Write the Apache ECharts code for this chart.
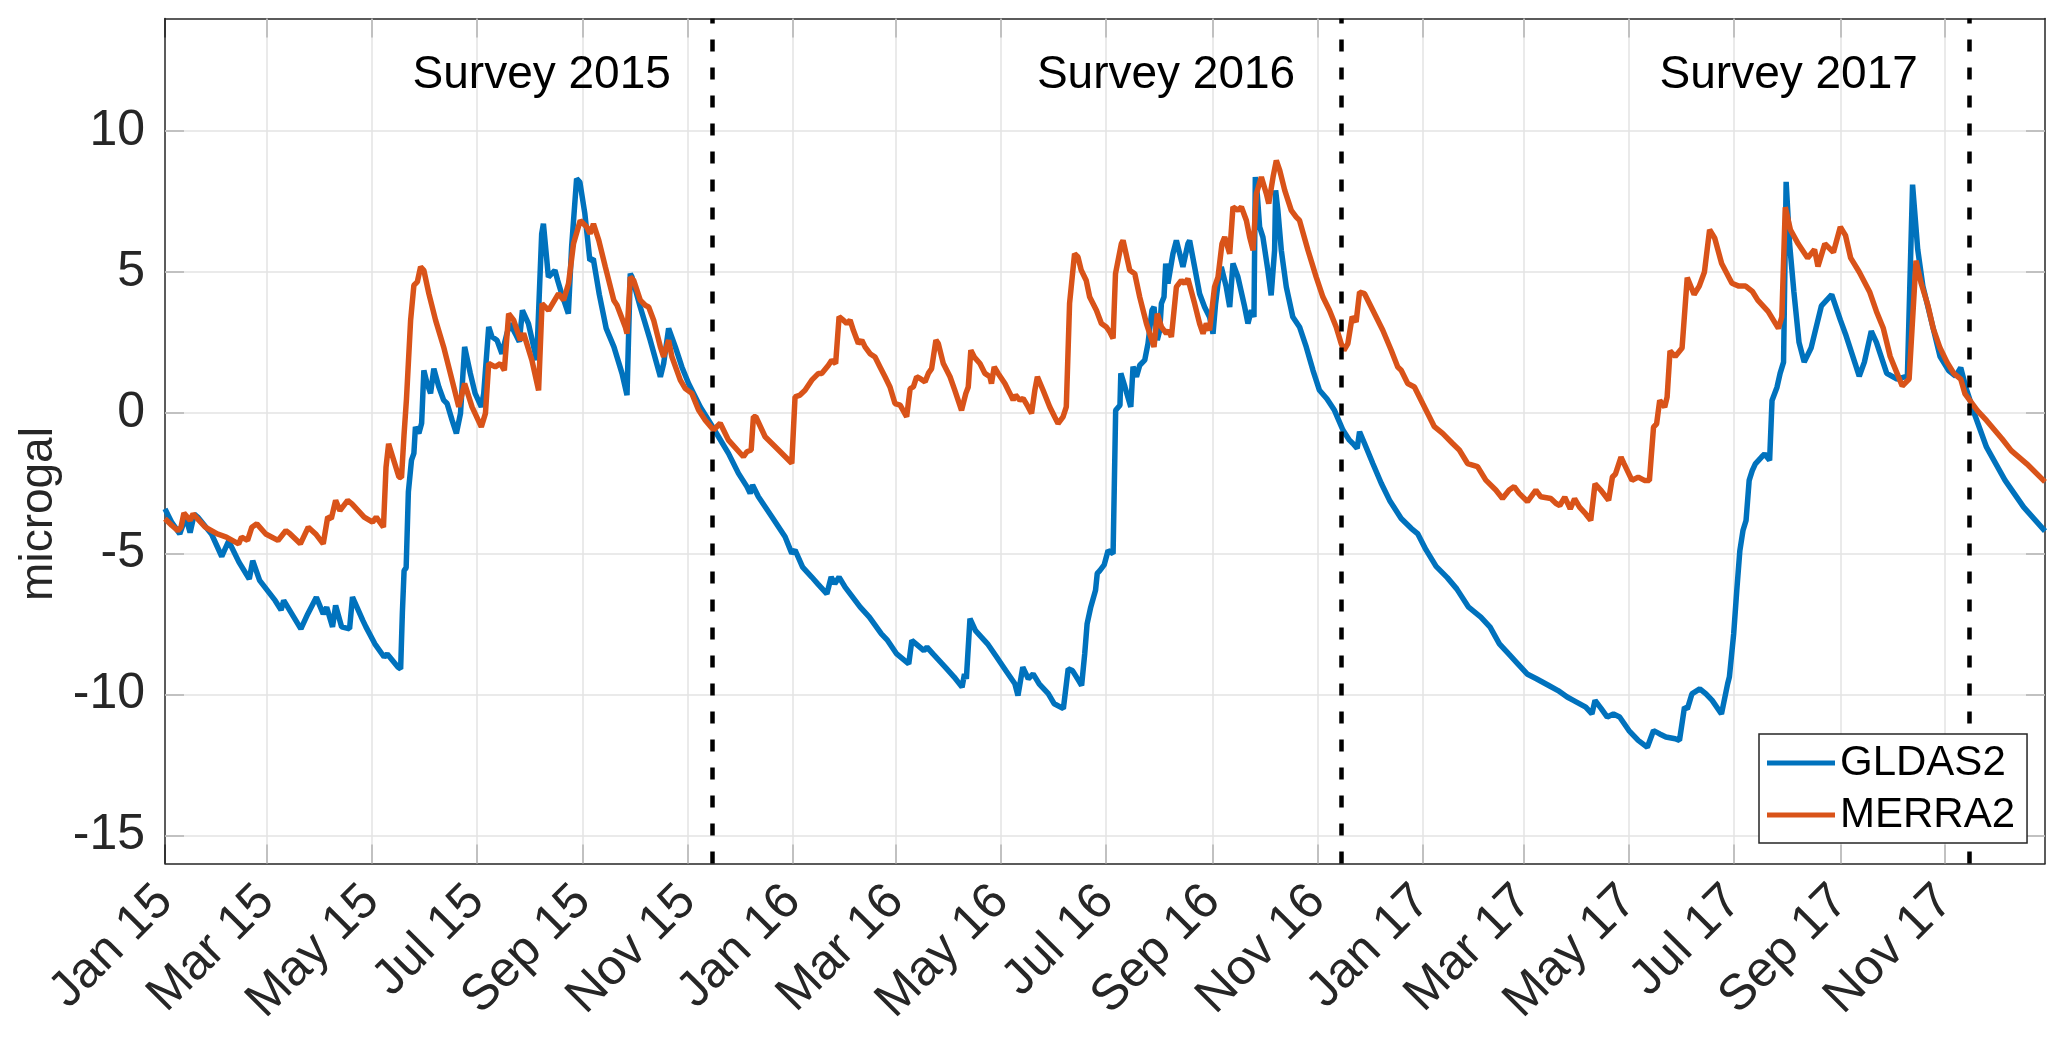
<!DOCTYPE html>
<html><head><meta charset="utf-8">
<script src="https://cdn.jsdelivr.net/npm/echarts@6/dist/echarts.min.js"></script>
<style>html,body{margin:0;padding:0;background:#fff}#chart{width:2067px;height:1056px}</style>
</head><body><div id="chart"></div>
<script>
// x values are days since 2015-01-01
const axisEndDay = 1093;
const tickDays = [0,59,120,181,243,304,365,425,486,547,609,670,731,790,851,912,974,1035];
const tickLabels = ['Jan 15','Mar 15','May 15','Jul 15','Sep 15','Nov 15','Jan 16','Mar 16','May 16','Jul 16','Sep 16','Nov 16','Jan 17','Mar 17','May 17','Jul 17','Sep 17','Nov 17'];
const yTicks = [-15,-10,-5,0,5,10];
const surveyDays = [318, 684, 1049];
const surveyLabels = ['Survey 2015','Survey 2016','Survey 2017'];
const surveyLabelDays = [219, 582, 944];
const surveyLabelY = 12;

const gldasDay = [0,4,8.6,12,14.6,17,19,27,33,37,43,49,51,55,64,67.5,69,79,83,88,92,94,97.4,99.2,102.7,107.3,109,115,116.8,122,127.4,129.2,135.5,137,138,139,140.2,141.5,143.3,144.7,145.6,147.6,149.2,150.5,152.4,154.4,156.3,159.2,162,164,166.9,169.4,171.8,174.2,177.5,180.3,183.9,185.3,188.2,190.1,193,195.9,198.8,200.7,203.6,206,207.8,211.3,216.1,219,220,222.9,226.7,228.3,230.6,234.5,236.4,239.3,241.2,244.1,247,249,252.5,256.5,261,265.7,268.6,270.5,271.5,276.3,282.1,288,289.9,292.8,296.7,300.5,304.4,307.3,311.2,316,321.8,327.6,333.4,338.3,340.2,341.6,345,352.8,360.5,364.4,366.3,370.7,376,379.5,384.8,387.3,389.4,391.9,395.4,404.2,409.5,416.5,420.1,425.4,432.4,434.2,436.6,441.2,443,446.5,453.6,458.8,463.4,464.8,465.9,468,471.2,478.2,483.5,488.8,494.1,495.9,498.7,501.9,504.7,508.2,513.5,517,522.3,523.4,525.1,527.6,531.1,532.9,534.7,536.1,538.2,541,542,543.5,546,548.3,551.2,552.7,555.2,555.7,558.1,561.5,562.8,564.8,566.7,569.6,571.5,572.5,573.8,575,576.9,578.3,579.3,580.8,581.8,583.1,586,588,591.8,594.7,595.7,598.6,601.5,604.4,607.3,609.3,610.8,612.2,614.1,617,619,620.9,623.8,627.7,629.6,631.6,633.1,633.9,635,636.4,638.3,641.2,643.1,645.1,645.7,647,649,651.9,655.7,659.6,663.5,667.4,671.2,675.5,679.9,684.8,688.6,690.6,693.1,694.5,697.4,702.2,707.1,711.9,718.7,724.5,728.4,733,739,745.5,751,757.9,765,770.4,775.8,781.2,786.5,791.9,797.3,804.5,809.9,815.2,818.8,826,829.6,831.4,835,838.5,842.1,845.7,851.1,856.5,861.8,865.4,869,872.6,878,880.5,883.4,885.1,887.7,892.3,895.9,899.5,904.9,908.5,909.5,912,913.8,915.6,917.4,919.2,921,922.8,924.6,928.2,930,932.9,934.3,937.2,939,941,942.5,944.5,947,950,953,957,963,969,974,977,985,988,992,995,1001,1007,1013,1016,1019,1022,1028,1032,1037,1041,1044,1047,1052,1059,1069.8,1080.6,1093];
const gldasVal = [-3.41,-3.9,-4.3,-3.7,-4.25,-3.6,-3.7,-4.3,-5.1,-4.55,-5.3,-5.9,-5.25,-5.95,-6.66,-7.0,-6.66,-7.67,-7.14,-6.55,-7.14,-6.9,-7.6,-6.84,-7.6,-7.67,-6.54,-7.37,-7.6,-8.2,-8.67,-8.56,-9.03,-9.09,-7.1,-5.6,-5.5,-2.8,-1.68,-1.44,-0.5,-0.73,-0.37,1.51,1.04,0.69,1.57,0.92,0.45,0.33,-0.26,-0.73,-0.02,2.34,1.4,0.69,0.21,0.69,3.05,2.7,2.58,2.1,2.82,3.17,2.82,2.52,3.64,3.17,1.87,6.36,6.71,4.82,5.06,4.7,4.23,3.52,5.89,8.31,8.19,7.07,5.41,5.47,4.2,3.0,2.34,1.4,0.63,4.94,4.82,3.76,2.58,1.28,1.75,3.0,2.34,1.63,1.04,0.69,0.21,-0.26,-0.85,-1.44,-2.15,-2.62,-2.86,-2.56,-2.98,-3.69,-4.4,-4.99,-4.87,-5.48,-5.83,-6.07,-6.43,-5.83,-6.07,-5.83,-6.19,-6.9,-7.25,-7.85,-8.08,-8.56,-8.91,-8.08,-8.2,-8.44,-8.32,-8.56,-9.03,-9.38,-9.74,-9.27,-9.44,-7.31,-7.73,-8.2,-8.67,-9.15,-9.62,-10.04,-9.03,-9.44,-9.27,-9.62,-9.97,-10.33,-10.5,-10.45,-9.09,-9.15,-9.5,-9.68,-8.56,-7.49,-6.9,-6.3,-5.7,-5.6,-5.4,-4.89,-5.0,0.09,0.27,1.4,0.92,0.21,1.64,1.28,1.69,1.87,2.46,2.46,3.64,3.76,2.58,2.93,3.88,4.11,5.3,4.59,5.65,6.12,5.18,6.0,6.12,5.18,4.23,3.76,3.4,2.81,3.88,4.59,5.18,4.47,3.76,5.3,4.82,3.76,3.17,3.64,3.4,8.37,7.78,6.6,6.24,5.06,4.17,5.77,7.9,7.19,5.77,4.47,3.4,3.05,2.34,1.51,0.8,0.5,0.09,-0.61,-0.97,-1.09,-1.26,-0.67,-1.09,-1.8,-2.5,-3.1,-3.75,-4.1,-4.3,-4.85,-5.45,-5.85,-6.25,-6.9,-7.25,-7.61,-8.2,-8.56,-8.91,-9.27,-9.44,-9.68,-9.86,-10.09,-10.21,-10.45,-10.69,-10.21,-10.5,-10.8,-10.69,-10.8,-11.28,-11.63,-11.87,-11.28,-11.4,-11.51,-11.57,-11.63,-10.45,-10.51,-9.98,-9.8,-9.98,-10.21,-10.69,-9.62,-9.38,-7.85,-6.31,-4.89,-4.18,-3.82,-2.4,-2.05,-1.81,-1.57,-1.46,-1.69,0.44,0.91,1.4,1.8,8.2,6.0,4.3,2.5,1.8,2.3,3.8,4.2,3.3,2.8,1.3,1.8,2.9,2.5,1.4,1.2,1.3,8.1,5.8,4.5,3.0,2.0,1.5,1.3,1.6,0.9,-0.04,-1.22,-2.4,-3.35,-4.2];

const merraDay = [0,4,7.5,9.3,11,14.6,16.3,23.4,30.4,35.7,42.8,44.5,48,50.5,53.4,58.6,65.7,70.3,72.8,78.7,83.3,87.6,92,94.6,96.7,99.2,101.7,106.2,108.7,115.8,120.7,122.8,127,128.5,130,132.7,136,137.5,139,140.4,142.8,144.7,146.7,148.6,150.5,153.4,157.3,162,165.9,170.8,174.2,178.5,183.9,186.3,188.2,192,195,197.3,199.8,202.7,206.6,208.5,213.3,217.2,219.2,223,228.8,231.7,234.6,237.5,241.4,245.2,247.2,249.1,252.2,256,260.9,262.8,267.6,268.6,270.5,272.5,276.3,279.2,281.2,284.1,288,289.9,292.8,294.7,299.6,302.5,306.3,310.2,314.1,318.9,322.8,327.6,336.3,338.3,340.8,342.1,343.5,348.9,356.7,364.4,366.3,369.2,372.1,376,379.9,381.8,385.7,387.6,389.9,391.9,394.4,396.4,398.3,400.2,403.1,405.1,407,409.9,412.8,415.7,418.6,421.5,424.4,427.4,431.2,433.2,435.1,437,439,441.9,443.8,445.7,448.2,449.6,452.5,456.4,459.2,463.1,464.1,465.6,467,468.5,470.5,473.8,476.7,479.6,480.5,482.1,484.4,488.3,491.2,493.1,494.5,497,498.9,501.8,503.8,505.7,507.2,510.5,514.4,517.2,519.2,522.1,524,525.9,528.8,530.8,532.7,535.6,537.6,541.5,544.4,547.3,549.3,551.2,552.6,556,557,560.9,563.8,566.7,570.6,575,576.9,579.3,582.2,583.5,585.1,588,590.9,592.8,594.7,598.6,601.5,603.5,605.4,607.3,610.2,612.2,614.5,616.1,619,620.9,623.8,625.8,628.7,630.6,632.6,634.5,637.4,640.3,641.7,644.2,646.1,648.1,651,654.8,657.7,659.6,664.5,669.3,673.2,677,680.9,683.8,685.4,687.7,690.2,692.5,694.5,697.4,702.2,708,712.9,716.7,718.7,722.5,726.4,731.2,738,742.8,748.6,752.5,757.3,763.1,767.9,773.7,777.6,781.5,784.4,787.3,792.1,797,799.9,805.7,808.6,810.9,813.8,817,819.5,822.4,826,828.9,831.4,835,839.3,841.5,843.3,846.5,848.3,852.9,856.5,860.1,863,865.4,867.2,869,871.9,873.3,875,878,882,885,889,892,895,898,901,905,911,915,919,923,926,932,938,940,942,945,949.5,955,959,961,965,970,974,977,980,985,991,995,999,1003,1007,1010,1014,1018,1021,1025,1028,1032,1036,1040,1044,1046.5,1053.7,1059,1068,1073.4,1082.4,1093];
const merraVal = [-3.76,-4.0,-4.18,-4.06,-3.56,-3.82,-3.59,-4.06,-4.3,-4.41,-4.65,-4.41,-4.53,-4.06,-3.94,-4.3,-4.53,-4.18,-4.3,-4.65,-4.06,-4.3,-4.65,-3.7,-3.76,-3.11,-3.47,-3.11,-3.23,-3.7,-3.88,-3.7,-4.06,-1.93,-1.1,-1.63,-2.28,-2.3,-0.75,0.5,3.29,4.53,4.65,5.18,5.06,4.23,3.29,2.34,1.4,0.21,1.04,0.21,-0.5,-0.02,1.75,1.63,1.75,1.51,3.52,3.29,2.58,2.82,1.87,0.8,3.88,3.64,4.23,4.0,4.59,6.0,6.83,6.6,6.36,6.71,6.12,5.18,4.0,3.82,3.05,2.81,4.82,4.7,4.0,3.82,3.76,3.29,2.34,1.99,2.58,1.99,1.16,0.86,0.69,0.1,-0.26,-0.61,-0.37,-0.97,-1.56,-1.38,-1.32,-0.14,-0.14,-0.85,-1.32,-1.79,0.57,0.63,0.8,1.16,1.4,1.4,1.69,1.87,1.75,3.41,3.29,3.17,3.29,2.93,2.46,2.58,2.34,2.1,1.98,1.63,1.28,0.92,0.33,0.27,-0.14,0.86,0.92,1.28,1.22,1.1,1.4,1.57,2.58,2.46,1.75,1.28,0.8,0.09,0.09,0.69,0.92,2.22,1.98,1.75,1.4,1.28,1.04,1.63,1.4,1.04,0.69,0.45,0.63,0.45,0.51,0.21,-0.02,0.8,1.28,0.8,0.21,-0.14,-0.38,-0.14,0.21,3.88,5.65,5.53,5.06,4.7,4.11,3.64,3.17,3.05,2.87,2.64,4.94,6.0,6.12,5.06,4.94,4.11,3.17,2.34,3.52,3.05,2.81,2.93,2.69,4.47,4.7,4.59,4.76,3.88,3.17,2.81,3.17,2.93,4.47,4.82,6.0,6.24,5.65,7.31,7.19,7.31,6.83,6.24,5.77,7.78,8.37,7.78,7.43,8.37,8.96,8.61,7.9,7.19,6.95,6.83,5.77,4.82,4.11,3.64,3.05,2.46,2.22,2.46,3.41,3.23,4.29,4.23,3.64,2.93,2.22,1.63,1.51,1.04,0.92,0.33,-0.49,-0.73,-1.09,-1.32,-1.8,-1.91,-2.39,-2.74,-3.04,-2.74,-2.62,-2.86,-3.15,-2.74,-2.98,-3.04,-3.21,-3.29,-2.99,-3.41,-3.05,-3.35,-3.59,-3.82,-2.52,-2.76,-3.11,-2.28,-2.17,-1.57,-1.81,-2.4,-2.28,-2.4,-2.4,-0.51,-0.39,0.44,0.2,0.56,2.2,2.0,2.3,4.8,4.2,4.5,5.0,6.5,6.2,5.3,4.6,4.5,4.5,4.3,4.0,3.6,3.0,3.4,7.3,6.5,6.0,5.5,5.8,5.2,6.0,5.7,6.6,6.3,5.5,5.0,4.3,3.6,3.0,2.0,1.4,0.95,1.2,5.4,4.6,3.8,3.0,2.3,1.8,1.4,1.2,0.67,0.08,-0.27,-0.92,-1.34,-1.81,-2.45];

const FONT = 'Liberation Sans';
const AX = '#262626';
const chart = echarts.init(document.getElementById('chart'));

function frameAxis(pos, isX) {
  return {
    type: 'value', position: pos, min: isX ? 0 : -16, max: isX ? axisEndDay : 14,
    axisLine: { show: true, onZero: false, lineStyle: { color: AX, width: 1.5 } },
    axisTick: { show: true, inside: true, length: 19, customValues: isX ? tickDays : yTicks, lineStyle: { color: AX, width: 1.5 } },
    axisLabel: { show: false },
    splitLine: { show: false }
  };
}
const xBottom = frameAxis('bottom', true);
xBottom.axisLabel = { show: true, customValues: tickDays, rotate: 45, margin: 30, fontSize: 50, color: AX, fontFamily: FONT,
  formatter: v => { const i = tickDays.indexOf(Math.round(v)); return i >= 0 ? tickLabels[i] : ''; } };
const yLeft = frameAxis('left', false);
yLeft.axisLabel = { show: true, customValues: yTicks, margin: 20, fontSize: 50, color: AX, fontFamily: FONT };
yLeft.name = 'microgal'; yLeft.nameLocation = 'middle'; yLeft.nameGap = 95;
yLeft.nameTextStyle = { fontSize: 46, color: AX, fontFamily: FONT, padding: [0, 146, 0, 0] };

const option = {
  animation: false,
  backgroundColor: '#fff',
  textStyle: { fontFamily: FONT },
  grid: { left: 165, right: 22, top: 18.5, bottom: 192.5 },
  xAxis: [xBottom, frameAxis('top', true)],
  yAxis: [yLeft, frameAxis('right', false)],
  legend: {
    z: 20,
    data: ['GLDAS2', 'MERRA2'], orient: 'vertical', left: 1759, top: 734,
    icon: 'rect', itemWidth: 68, itemHeight: 5, itemGap: 10, padding: [8, 12, 7, 8],
    borderColor: AX, borderWidth: 1.5, backgroundColor: '#fff',
    textStyle: { fontSize: 42, color: '#000', fontFamily: FONT }
  },
  series: [
    { type: 'line', data: [], silent: true, z: 1,
      markLine: { z: 1, silent: true, symbol: ['none', 'none'], label: { show: false }, animation: false,
        lineStyle: { color: '#e3e3e3', width: 1.5, type: 'solid' },
        data: tickDays.slice(1).map(d => ({ xAxis: d })).concat(yTicks.map(v => ({ yAxis: v }))) } },
    { name: 'GLDAS2', type: 'line', z: 3, symbol: 'none', showSymbol: false,
      data: gldasDay.map((d, i) => [d, gldasVal[i]]),
      lineStyle: { color: '#0072BD', width: 5.5 }, itemStyle: { color: '#0072BD' } },
    { name: 'MERRA2', type: 'line', z: 4, symbol: 'none', showSymbol: false,
      data: merraDay.map((d, i) => [d, merraVal[i]]),
      lineStyle: { color: '#D95319', width: 5.5 }, itemStyle: { color: '#D95319' } },
    { type: 'line', data: [], silent: true, z: 5,
      markLine: { z: 5, silent: true, symbol: ['none', 'none'], label: { show: false }, animation: false,
        lineStyle: { color: '#000', width: 4.5, type: [12, 16] },
        data: surveyDays.map(d => ({ xAxis: d })) },
      markPoint: { z: 6, silent: true, symbol: 'circle', symbolSize: 0, animation: false,
        itemStyle: { color: 'rgba(0,0,0,0)' },
        label: { show: true, position: 'inside', formatter: '{b}', fontSize: 46, color: '#000', fontFamily: FONT },
        data: surveyLabelDays.map((d, i) => ({ name: surveyLabels[i], coord: [d, surveyLabelY] })) } }
  ]
};
chart.setOption(option);
</script></body></html>
